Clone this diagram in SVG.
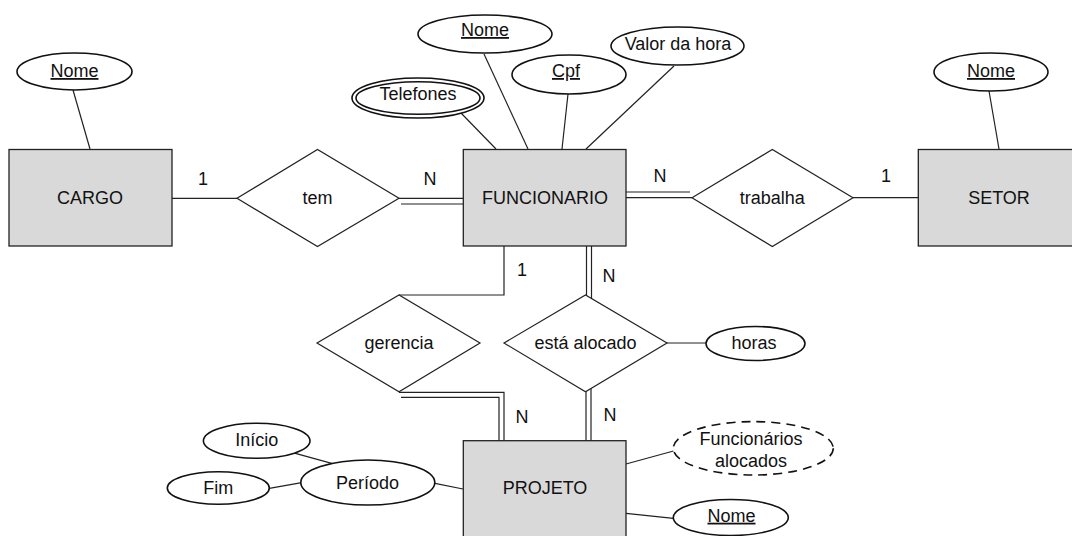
<svg xmlns="http://www.w3.org/2000/svg" width="1072" height="536" viewBox="0 0 1072 536">
<style>
.ent{fill:#d9d9d9;stroke:#222;stroke-width:1.3}
.rel{fill:#fff;stroke:#222;stroke-width:1.2}
.att{fill:#fff;stroke:#111;stroke-width:1.6}
.ln{fill:none;stroke:#222;stroke-width:1.2}
.t{font-family:"Liberation Sans",Arial,sans-serif;font-size:18px;fill:#111;text-anchor:middle}
.u{text-decoration:underline}
</style>
<rect width="1072" height="536" fill="#fff"/>
<g id="connectors">
<line class="ln" x1="73" y1="90" x2="90" y2="149"/>
<line class="ln" x1="989" y1="91" x2="999" y2="149"/>
<line class="ln" x1="461" y1="113" x2="496" y2="149"/>
<line class="ln" x1="484" y1="54" x2="528" y2="149"/>
<line class="ln" x1="568" y1="94" x2="562" y2="149"/>
<line class="ln" x1="674" y1="66" x2="586" y2="149"/>
<line class="ln" x1="172" y1="198.3" x2="237" y2="198.3"/>
<line class="ln" x1="399" y1="198.3" x2="463" y2="198.3"/>
<line class="ln" x1="401" y1="204" x2="463" y2="204"/>
<line class="ln" x1="626" y1="192" x2="690" y2="192"/>
<line class="ln" x1="626" y1="197.7" x2="692" y2="197.7"/>
<line class="ln" x1="853" y1="197.7" x2="918" y2="197.7"/>
<polyline class="ln" points="504,246 504,295 399,295"/>
<line class="ln" x1="586.5" y1="246" x2="586.5" y2="296"/>
<line class="ln" x1="591.5" y1="246" x2="591.5" y2="299"/>
<line class="ln" x1="667" y1="343" x2="706" y2="343"/>
<polyline class="ln" points="399,392.3 504,392.3 504,441"/>
<polyline class="ln" points="401,397.3 499,397.3 499,441"/>
<line class="ln" x1="586" y1="391" x2="586" y2="441"/>
<line class="ln" x1="591" y1="388" x2="591" y2="441"/>
<line class="ln" x1="435" y1="483.3" x2="463" y2="489"/>
<line class="ln" x1="292.7" y1="452.7" x2="331.7" y2="463.3"/>
<line class="ln" x1="269.3" y1="488.3" x2="301.7" y2="482.7"/>
<line class="ln" x1="626" y1="464" x2="673.5" y2="451"/>
<line class="ln" x1="626" y1="513.3" x2="673.5" y2="518.3"/>
<text class="t" x="203" y="185">1</text>
<text class="t" x="430" y="185">N</text>
<text class="t" x="660" y="182">N</text>
<text class="t" x="886" y="182">1</text>
<text class="t" x="522" y="276">1</text>
<text class="t" x="609" y="282">N</text>
<text class="t" x="522" y="423">N</text>
<text class="t" x="610" y="421">N</text>
</g>
<g id="cargo"><rect class="ent" x="9" y="149.5" width="163" height="96.5"/><text class="t" x="90" y="204">CARGO</text></g>
<g id="funcionario"><rect class="ent" x="463.3" y="149.5" width="162.7" height="96.5"/><text class="t" x="545" y="204">FUNCIONARIO</text></g>
<g id="setor"><rect class="ent" x="918.3" y="149.5" width="163" height="96.5"/><text class="t" x="999" y="204">SETOR</text></g>
<g id="projeto"><rect class="ent" x="463.3" y="440.7" width="162.7" height="100"/><text class="t" x="545" y="494">PROJETO</text></g>
<g id="tem"><polygon class="rel" points="237,198.3 317.5,149.5 399,198.3 317.5,246.5"/><text class="t" x="317.5" y="204">tem</text></g>
<g id="trabalha"><polygon class="rel" points="692,197.7 772.3,149.5 853,197.7 772.3,246.5"/><text class="t" x="772.3" y="204">trabalha</text></g>
<g id="gerencia"><polygon class="rel" points="317,343 399,295 480,343 399,391.7"/><text class="t" x="399" y="348.5">gerencia</text></g>
<g id="esta-alocado"><polygon class="rel" points="504,343 585.5,295 667,343 585.5,391.7"/><text class="t" x="585.5" y="348.5">está alocado</text></g>
<g id="cargo-nome"><ellipse class="att" cx="74.5" cy="71.5" rx="57.5" ry="18.5"/><text class="t u" x="74.5" y="77">Nome</text></g>
<g id="setor-nome"><ellipse class="att" cx="991" cy="72" rx="57" ry="19"/><text class="t u" x="991" y="77">Nome</text></g>
<g id="func-nome"><ellipse class="att" cx="485" cy="34" rx="67" ry="19"/><text class="t u" x="485" y="36">Nome</text></g>
<g id="func-cpf"><ellipse class="att" cx="569" cy="74.5" rx="57" ry="19.5"/><text class="t u" x="566" y="77">Cpf</text></g>
<g id="func-valor"><ellipse class="att" cx="677.5" cy="46" rx="66.5" ry="19"/><text class="t" x="678" y="49.5">Valor da hora</text></g>
<g id="func-telefones"><ellipse class="att" cx="418" cy="98" rx="66" ry="20"/><ellipse class="att" cx="418" cy="98" rx="62" ry="16.3" stroke-width="1.3"/><text class="t" x="418" y="99.5">Telefones</text></g>
<g id="horas"><ellipse class="att" cx="755.5" cy="343.5" rx="49.5" ry="17"/><text class="t" x="754" y="348.5">horas</text></g>
<g id="inicio"><ellipse class="att" cx="256.7" cy="440.8" rx="53.3" ry="17.5"/><text class="t" x="256.7" y="445.7">Início</text></g>
<g id="fim"><ellipse class="att" cx="218.3" cy="488" rx="51" ry="16.3"/><text class="t" x="218.3" y="494">Fim</text></g>
<g id="periodo"><ellipse class="att" cx="367.8" cy="482.5" rx="67" ry="22.5"/><text class="t" x="367.5" y="489">Período</text></g>
<g id="func-alocados"><ellipse class="att" cx="753.3" cy="448.3" rx="80" ry="26.7" stroke-dasharray="9,6"/><text class="t" x="751" y="445">Funcionários</text><text class="t" x="751" y="466.7">alocados</text></g>
<g id="projeto-nome"><ellipse class="att" cx="730.8" cy="517.5" rx="57.5" ry="18"/><text class="t u" x="731.5" y="521.7">Nome</text></g>
</svg>
